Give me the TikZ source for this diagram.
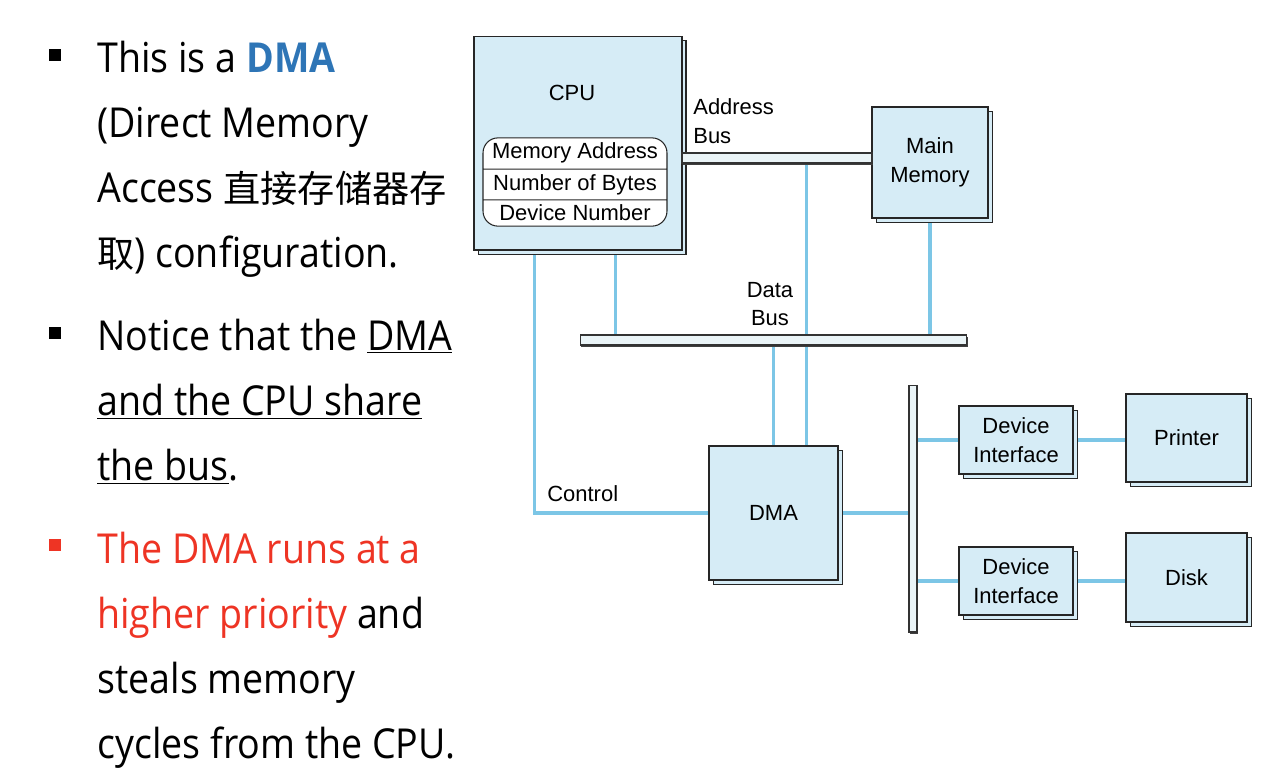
\documentclass[tikz,border=0pt]{standalone}
\usepackage{fontspec}
\usepackage{tikz}
\usetikzlibrary{positioning, calc, shadows, shapes.multipart, backgrounds}
\setmainfont[FakeStretch=0.91]{Open Sans}
\newfontfamily\cjk[Scale=0.9]{Noto Sans CJK SC}
\newfontfamily\diag{Liberation Sans}
\definecolor{boxblue}{HTML}{D6ECF6}
\definecolor{wireblue}{HTML}{7CC6E6}
\definecolor{dmablue}{HTML}{2E75B6}
\definecolor{hotred}{HTML}{EE3424}
\definecolor{pipefill}{HTML}{EAF4F7}

\tikzset{
  unit/.style={draw=black!85, line width=0.6pt, fill=boxblue, inner sep=0pt,
    font=\diag\fontsize{12.5}{16.4}\selectfont, align=center,
    copy shadow={shadow xshift=2.3pt, shadow yshift=-2.6pt}},
  regs/.style={rectangle split, rectangle split parts=3, draw=black!85,
    fill=white, rounded corners=0.3cm, line width=0.6pt,
    font=\diag\fontsize{12.5}{15}\selectfont, minimum width=3.68cm,
    text height=9pt, text depth=3pt, inner ysep=2.6pt, inner xsep=0pt},
  pipe/.style={draw=black!80, line width=0.6pt, fill=pipefill, inner sep=0pt,
    drop shadow={shadow xshift=0.8pt, shadow yshift=-0.9pt, fill=black!75, opacity=1}},
  wire/.style={wireblue, line width=2.1pt},
  lbl/.style={font=\diag\fontsize{12.5}{16.4}\selectfont, inner sep=0pt},
  slide/.style={anchor=base west, inner sep=0pt, font=\fontsize{23.5}{28}\selectfont},
  bullet/.style={fill=black, minimum size=0.23cm, inner sep=0pt}
}

\begin{document}
\begin{tikzpicture}[x=0.02cm, y=-0.02cm]
\useasboundingbox (0,0) rectangle (1276,772);

% slide text
\node[bullet] (b1) at (55,55) {};
\node[bullet] (b2) at (55,333) {};
\node[bullet, fill=hotred] (b3) at (55,545) {};
\node[slide] (l1) at (97,72) {This is a \textbf{\color{dmablue}DMA}};
\node[slide] (l2) at (97,137) {(Direct Memory};
\node[slide] (l3) at (97,202) {Access {\cjk 直接存储器存}};
\node[slide] (l4) at (97,267) {{\cjk 取}) configuration.};
\node[slide] (l5) at (97,350) {Notice that the \underline{DMA}};
\node[slide] (l6) at (97,415) {\underline{and the CPU share}};
\node[slide] (l7) at (97,480) {\underline{the bus}.};
\node[slide, text=hotred] (l8) at (97,563) {The DMA runs at a};
\node[slide] (l9) at (97,628) {{\color{hotred}higher priority} and};
\node[slide] (l10) at (97,693) {steals memory};
\node[slide] (l11) at (97,758) {cycles from the CPU.};

% CPU with its registers
\node[unit, minimum width=4.16cm, minimum height=4.28cm] (cpu) at (578,143) {};
\node[lbl] (cpulbl) at (572,93) {CPU};
\node[regs] (regs) at (575,182) {Memory Address \nodepart{two} Number of Bytes \nodepart{three} Device Number};

% memory and buses
\node[unit, minimum width=2.32cm, minimum height=2.22cm] (mem) at (930,162.5) {Main\\Memory};
\node[pipe, minimum width=3.8cm, minimum height=0.2cm] (abus) at (777,158) {};
\node[pipe, minimum width=7.74cm, minimum height=0.2cm] (dbus) at (773.5,340) {};
\node[pipe, minimum width=0.16cm, minimum height=4.94cm] (vbus) at (913,508.5) {};
\node[lbl, anchor=west, align=left] (alabel) at (693,121) {Address\\Bus};
\node[lbl, align=center] (dlabel) at (770,304) {Data\\Bus};
\node[lbl, anchor=west] (clabel) at (547,494) {Control};

% DMA and devices
\node[unit, minimum width=2.58cm, minimum height=2.68cm] (dma) at (773.5,513) {DMA};
\node[unit, minimum width=2.28cm, minimum height=1.36cm] (di1) at (1016,440) {Device\\Interface};
\node[unit, minimum width=2.28cm, minimum height=1.36cm] (di2) at (1016,581) {Device\\Interface};
\node[unit, minimum width=2.42cm, minimum height=1.76cm] (prn) at (1186.5,438) {Printer};
\node[unit, minimum width=2.42cm, minimum height=1.78cm] (disk) at (1186.5,577.5) {Disk};

% wires
\begin{scope}[on background layer]
\draw[wire] ($(cpu.south west)+(61,0)$) |- (dma.west);
\draw[wire] ($(cpu.south west)+(142,0)$) coordinate (cputap) -- (cputap |- dbus.north);
\draw[wire] ($(abus.south west)+(125,0)$) coordinate (adtap) -- (adtap |- dma.north);
\draw[wire] (dma.north) -- (dma.north |- dbus.south);
\draw[wire] (mem.south) -- (mem.south |- dbus.north);
\draw[wire] (dma.east) -- (dma.east -| vbus.west);
\draw[wire] (di1.west -| vbus.east) -- (di1.west);
\draw[wire] (di2.west -| vbus.east) -- (di2.west);
\draw[wire] (di1.east) -- (di1.east -| prn.west);
\draw[wire] (di2.east) -- (di2.east -| disk.west);
\end{scope}
\end{tikzpicture}
\end{document}
